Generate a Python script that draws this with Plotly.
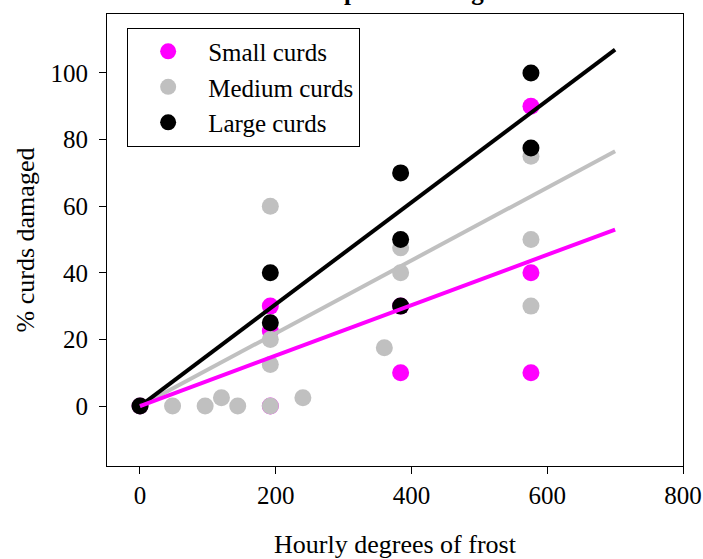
import plotly.graph_objects as go

# ---- data ----
small_x = [0, 192, 192, 192, 384, 384, 576, 576, 576]
small_y = [0, 30, 22.5, 0, 30, 10, 90, 40, 10]

medium_x = [0, 48, 96, 120, 144, 192, 192, 192, 192, 240, 360, 384, 384, 576, 576, 576]
medium_y = [0, 0, 0, 2.5, 0, 0, 12.5, 20, 60, 2.5, 17.5, 40, 47.5, 30, 50, 75]

large_x = [0, 192, 192, 384, 384, 384, 576, 576]
large_y = [0, 25, 40, 30, 50, 70, 77.5, 100]

fit_x = [0, 700]
small_fit = [0, 53]
medium_fit = [0, 76.5]
large_fit = [0, 107]

x_ticks = [0, 200, 400, 600, 800]
y_ticks = [0, 20, 40, 60, 80, 100]

MAGENTA = "#ff00ff"
GREY = "#c0c0c0"
BLACK = "#000000"
FONT = "Liberation Serif, Times New Roman, serif"

fig = go.Figure()
fig.add_trace(go.Scatter(x=small_x, y=small_y, mode="markers", name="Small curds",
                         marker=dict(color=MAGENTA, size=17, line=dict(width=0))))
fig.add_trace(go.Scatter(x=medium_x, y=medium_y, mode="markers", name="Medium curds",
                         marker=dict(color=GREY, size=17, line=dict(width=0))))
fig.add_trace(go.Scatter(x=large_x, y=large_y, mode="markers", name="Large curds",
                         marker=dict(color=BLACK, size=17, line=dict(width=0))))
fig.add_trace(go.Scatter(x=fit_x, y=medium_fit, mode="lines", showlegend=False,
                         line=dict(color=GREY, width=4)))
fig.add_trace(go.Scatter(x=fit_x, y=large_fit, mode="lines", showlegend=False,
                         line=dict(color=BLACK, width=4)))
fig.add_trace(go.Scatter(x=fit_x, y=small_fit, mode="lines", showlegend=False,
                         line=dict(color=MAGENTA, width=4)))

fig.update_layout(
    width=703, height=559,
    margin=dict(l=107, r=20, t=14, b=93),
    paper_bgcolor="white", plot_bgcolor="white",
    font=dict(family=FONT, size=25, color="black"),
    showlegend=True,
    legend=dict(x=0.035, y=0.97, xanchor="left", yanchor="top",
                bordercolor="black", borderwidth=1, bgcolor="white",
                font=dict(size=25, family=FONT), itemwidth=70, tracegroupgap=0,
                entrywidth=160, entrywidthmode="pixels"),
    annotations=[dict(text="<b>Mean all varieties exposed during marked frost</b>",
                      xref="paper", yref="paper", x=0.469, y=1.0155,
                      xanchor="center", yanchor="bottom", showarrow=False,
                      font=dict(size=25, family=FONT))],
)
fig.update_xaxes(range=[-48.6, 800], tickvals=x_ticks, ticks="outside", ticklen=7,
                 tickwidth=1, tickcolor="black", showline=True, linecolor="black",
                 linewidth=1, mirror=True, showgrid=False, zeroline=False,
                 automargin=False, tickfont=dict(size=25, family=FONT),
                 title=dict(text="Hourly degrees of frost", standoff=26,
                            font=dict(size=26, family=FONT)),
                 ticklabelstandoff=0)
fig.update_yaxes(range=[-18, 117.7], tickvals=y_ticks, ticks="outside", ticklen=7,
                 tickwidth=1, tickcolor="black", showline=True, linecolor="black",
                 linewidth=1, mirror=True, showgrid=False, zeroline=False,
                 automargin=False, tickfont=dict(size=25, family=FONT),
                 title=dict(text="% curds damaged", standoff=8,
                            font=dict(size=26, family=FONT)),
                 ticklabelstandoff=6)

fig.write_html("out.html")
